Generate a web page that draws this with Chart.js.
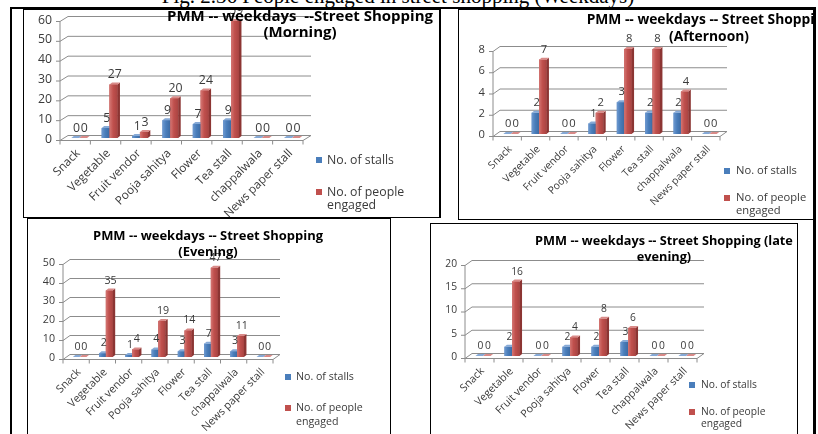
<!DOCTYPE html>
<html>
<head>
<meta charset="utf-8">
<script src="https://cdn.jsdelivr.net/npm/chart.js@4.4.1/dist/chart.umd.min.js"></script>
<style>
  html, body { margin: 0; padding: 0; background: #fff; }
  body { width: 818px; height: 434px; position: relative; overflow: hidden; }
  .caption { position: absolute; left: 0; width: 796px; top: -14px; text-align: center;
             font: 21px "Liberation Serif", "Times New Roman", serif; color: #000; white-space: nowrap; line-height: 21px; }
  .rule { position: absolute; background: #000; }
  .frame { position: absolute; border: 1px solid #000; box-sizing: border-box; overflow: hidden; background: #fff; }
  .frame canvas { position: absolute; left: 0; top: 0; }
</style>
</head>
<body>
<div class="caption">Fig. 2.36 People engaged in street shopping (Weekdays)</div>

<div class="frame" style="left:23px;top:9px;width:418px;height:209px;border-right-width:2px"><canvas id="c1"></canvas></div>
<div class="frame" style="left:458px;top:9px;width:358px;height:211px"><canvas id="c2"></canvas></div>
<div class="frame" style="left:27px;top:218px;width:364px;height:222px"><canvas id="c3"></canvas></div>
<div class="frame" style="left:430px;top:223px;width:368px;height:217px"><canvas id="c4"></canvas></div>

<div class="rule" style="left:10px;top:7px;width:806px;height:2px"></div>
<div class="rule" style="left:10px;top:7px;width:2px;height:427px"></div>
<div class="rule" style="left:813px;top:7px;width:3px;height:427px"></div>

<script>
// ---- data ----
const categories = ['Snack', 'Vegetable', 'Fruit vendor', 'Pooja sahitya', 'Flower', 'Tea stall', 'chappalwala', 'News paper stall'];
const seriesNames = ['No. of stalls', 'No. of people engaged'];

const morningStalls = [0, 5, 1, 9, 7, 9, 0, 0];
const morningPeople = [0, 27, 3, 20, 24, 59, 0, 0];
const morningTicks = [0, 10, 20, 30, 40, 50, 60];
const morningTitle = ['PMM -- weekdays  --Street Shopping', '(Morning)'];

const afternoonStalls = [0, 2, 0, 1, 3, 2, 2, 0];
const afternoonPeople = [0, 7, 0, 2, 8, 8, 4, 0];
const afternoonTicks = [0, 2, 4, 6, 8];
const afternoonTitle = ['PMM -- weekdays -- Street Shopping', '(Afternoon)'];

const eveningStalls = [0, 2, 1, 4, 3, 7, 3, 0];
const eveningPeople = [0, 35, 4, 19, 14, 47, 11, 0];
const eveningTicks = [0, 10, 20, 30, 40, 50];
const eveningTitle = ['PMM -- weekdays -- Street Shopping', '(Evening)'];

const lateStalls = [0, 2, 0, 2, 2, 3, 0, 0];
const latePeople = [0, 16, 0, 4, 8, 6, 0, 0];
const lateTicks = [0, 5, 10, 15, 20];
const lateTitle = ['PMM -- weekdays -- Street Shopping (late', 'evening)'];

// ---- styling ----
const FONT = '"Open Sans", "DejaVu Sans", sans-serif';
const TEXT = '#3a3a3a';
const GRID = '#8c8c8c';
const BLUE = { front: '#4a7ebb', light: '#6e99d0', dark: '#3d6ba3', side: '#36608f', top: '#86a9d6' };
const RED  = { front: '#c0504d', light: '#d47673', dark: '#a94442', side: '#8c3533', top: '#d98a88' };
const BAR_DEPTH = { x: 2.5, y: 2 };

// page-coordinate layout of each panel
const panels = [
  { id: 'c1', title: morningTitle, stalls: morningStalls, people: morningPeople, ticks: morningTicks,
    canvas: { x: 24, y: 10, w: 416, h: 207 }, front: { left: 60, right: 303, y0: 140.5, top: 21.5 },
    depth: { hx: 4, hy: 2.5 }, titleBox: { cx: 300, y: [17, 33], w: 266 },
    legend: { sq: 316, tx: 327, y: [160, 192], lh: 13, w: 67 }, catW: 73 },
  { id: 'c2', title: afternoonTitle, stalls: afternoonStalls, people: afternoonPeople, ticks: afternoonTicks,
    canvas: { x: 459, y: 10, w: 356, h: 209 }, front: { left: 493, right: 720, y0: 136.5, top: 51.5 },
    depth: { hx: 3.5, hy: 2.5 }, titleBox: { cx: 709, y: [20, 37], w: 245 },
    legend: { sq: 724, tx: 736, y: [171, 198], lh: 13, w: 61 }, catW: 64 },
  { id: 'c3', title: eveningTitle, stalls: eveningStalls, people: eveningPeople, ticks: eveningTicks,
    canvas: { x: 28, y: 219, w: 362, h: 215 }, front: { left: 63, right: 273, y0: 359.5, top: 264.5 },
    depth: { hx: 3.5, hy: 2.5 }, titleBox: { cx: 208, y: [236, 252], w: 230 },
    legend: { sq: 285, tx: 296, y: [377, 408], lh: 14, w: 58 }, catW: 67 },
  { id: 'c4', title: lateTitle, stalls: lateStalls, people: latePeople, ticks: lateTicks,
    canvas: { x: 431, y: 224, w: 366, h: 210 }, front: { left: 465, right: 697, y0: 358.5, top: 265.5 },
    depth: { hx: 3.5, hy: 2.5 }, titleBox: { cx: 664, y: [241, 257], w: 258 },
    legend: { sq: 689, tx: 701, y: [385, 412], lh: 12, w: 56 }, catW: 66 }
];

// font size that makes `text` span `width` pixels
function fitSize(ctx, text, width, weight) {
  ctx.font = weight + ' 100px ' + FONT;
  return 100 * width / ctx.measureText(text).width;
}

function poly(ctx, pts, fill) {
  ctx.beginPath();
  ctx.moveTo(pts[0][0], pts[0][1]);
  for (let i = 1; i < pts.length; i++) ctx.lineTo(pts[i][0], pts[i][1]);
  ctx.closePath();
  ctx.fillStyle = fill;
  ctx.fill();
}

// shading on the front face plus the side and top faces of a column
function barFaces(ctx, el, col) {
  const { x, y, base, width } = el.getProps(['x', 'y', 'base', 'width'], true);
  const l = x - width / 2, r = x + width / 2;
  const dx = BAR_DEPTH.x, dy = BAR_DEPTH.y;
  if (base - y > 0.5) {
    const g = ctx.createLinearGradient(l, 0, r, 0);
    g.addColorStop(0, col.light);
    g.addColorStop(0.45, col.front);
    g.addColorStop(1, col.dark);
    ctx.fillStyle = g;
    ctx.fillRect(l, y, width, base - y);
  }
  poly(ctx, [[r, y], [r + dx, y - dy], [r + dx, base - dy], [r, base]], col.side);
  poly(ctx, [[l, y], [l + dx, y - dy], [r + dx, y - dy], [r, y]], col.top);
}

function panelPlugin(p) {
  const ox = p.canvas.x, oy = p.canvas.y;
  const sizes = {};
  return {
    id: 'panel3d',
    beforeDatasetsDraw(chart) {
      const { ctx, chartArea: a, scales: { x, y } } = chart;
      const hx = p.depth.hx, hy = p.depth.hy;
      const fl = a.left - hx, fr = a.right - hx, bl = a.left + hx, br = a.right + hx;
      ctx.save();
      ctx.strokeStyle = GRID;
      ctx.lineWidth = 1;
      p.ticks.forEach(v => {
        const ym = y.getPixelForValue(v);
        ctx.beginPath();
        ctx.moveTo(fl, ym + hy);
        ctx.lineTo(bl, ym - hy);
        ctx.lineTo(br, ym - hy);
        ctx.stroke();
        ctx.beginPath();
        ctx.moveTo(fl - 4, ym + hy);
        ctx.lineTo(fl, ym + hy);
        ctx.stroke();
      });
      const y0 = y.getPixelForValue(p.ticks[0]);
      const yT = y.getPixelForValue(p.ticks[p.ticks.length - 1]);
      ctx.beginPath();
      ctx.moveTo(fl, y0 + hy); ctx.lineTo(fl, yT + hy);
      ctx.stroke();
      ctx.beginPath();
      ctx.moveTo(fl, y0 + hy); ctx.lineTo(fr, y0 + hy); ctx.lineTo(br, y0 - hy);
      ctx.stroke();
      const n = categories.length;
      const cw = (a.right - a.left) / n;
      for (let k = 0; k <= n; k++) {
        const xk = x.getPixelForValue(0) - cw / 2 + k * cw - hx;
        ctx.beginPath();
        ctx.moveTo(xk, y0 + hy); ctx.lineTo(xk, y0 + hy + 4);
        ctx.stroke();
      }
      ctx.restore();
    },
    afterDatasetsDraw(chart) {
      const ctx = chart.ctx;
      const m0 = chart.getDatasetMeta(0), m1 = chart.getDatasetMeta(1);
      ctx.save();
      for (let i = 0; i < categories.length; i++) {
        barFaces(ctx, m0.data[i], BLUE);
        m1.data[i].draw(ctx);
        barFaces(ctx, m1.data[i], RED);
      }
      // value labels
      sizes.small = fitSize(ctx, 'No. of stalls', p.legend.w, 'normal');
      ctx.font = sizes.small.toFixed(2) + 'px ' + FONT;
      ctx.fillStyle = TEXT;
      ctx.textAlign = 'center';
      ctx.textBaseline = 'middle';
      [m0, m1].forEach((m, d) => {
        const vals = chart.data.datasets[d].data;
        m.data.forEach((el, i) => {
          ctx.fillText(String(vals[i]), el.x + BAR_DEPTH.x / 2, el.y - 10);
        });
      });
      ctx.restore();
    },
    afterDraw(chart) {
      const { ctx, chartArea: a, scales: { x, y } } = chart;
      const hx = p.depth.hx, hy = p.depth.hy;
      const fl = a.left - hx;
      ctx.save();
      // value axis labels
      ctx.font = sizes.small.toFixed(2) + 'px ' + FONT;
      ctx.fillStyle = TEXT;
      ctx.textAlign = 'right';
      ctx.textBaseline = 'middle';
      p.ticks.forEach(v => ctx.fillText(String(v), fl - 8, y.getPixelForValue(v) + hy - 1.5));
      // category labels
      const cs = fitSize(ctx, 'Pooja sahitya', p.catW, 'normal');
      ctx.font = cs.toFixed(2) + 'px ' + FONT;
      ctx.fillStyle = TEXT;
      const y0 = y.getPixelForValue(p.ticks[0]) + hy;
      categories.forEach((c, i) => {
        ctx.save();
        ctx.translate(x.getPixelForValue(i) - hx + 3, y0 + 11);
        ctx.rotate(-Math.PI / 4);
        ctx.textAlign = 'right';
        ctx.textBaseline = 'middle';
        ctx.fillText(c, 0, 0);
        ctx.restore();
      });
      // title
      const ts = fitSize(ctx, p.title[0], p.titleBox.w, 'bold');
      ctx.font = 'bold ' + ts.toFixed(2) + 'px ' + FONT;
      ctx.fillStyle = '#000';
      ctx.textAlign = 'center';
      ctx.textBaseline = 'middle';
      p.title.forEach((t, k) => ctx.fillText(t, p.titleBox.cx - ox, p.titleBox.y[k] - oy));
      // legend
      ctx.font = sizes.small.toFixed(2) + 'px ' + FONT;
      ctx.textAlign = 'left';
      const cols = [BLUE.front, RED.front];
      chart.data.datasets.forEach((ds, d) => {
        const yy = p.legend.y[d] - oy;
        ctx.fillStyle = cols[d];
        ctx.fillRect(p.legend.sq - ox, yy - 3, 6, 6);
        // wrap the series name to the legend width
        const words = ds.label.split(' ');
        const lines = [];
        let cur = '';
        words.forEach(w => {
          const t = cur ? cur + ' ' + w : w;
          if (cur && ctx.measureText(t).width > p.legend.w * 1.35) { lines.push(cur); cur = w; }
          else cur = t;
        });
        lines.push(cur);
        ctx.fillStyle = TEXT;
        lines.forEach((ln, k) => ctx.fillText(ln, p.legend.tx - ox, yy + k * p.legend.lh));
      });
      ctx.restore();
    }
  };
}

function buildPanel(p) {
  const cv = document.getElementById(p.id);
  cv.width = p.canvas.w;
  cv.height = p.canvas.h;
  const ox = p.canvas.x, oy = p.canvas.y;
  const pad = {
    left: p.front.left + p.depth.hx - ox,
    right: ox + p.canvas.w - (p.front.right + p.depth.hx),
    top: p.front.top - p.depth.hy - oy,
    bottom: oy + p.canvas.h - (p.front.y0 - p.depth.hy)
  };
  new Chart(cv, {
    type: 'bar',
    data: {
      labels: categories,
      datasets: [
        { label: seriesNames[0], data: p.stalls, backgroundColor: BLUE.front, borderWidth: 0 },
        { label: seriesNames[1], data: p.people, backgroundColor: RED.front, borderWidth: 0 }
      ]
    },
    options: {
      responsive: false,
      animation: false,
      devicePixelRatio: 1,
      layout: { padding: pad },
      datasets: { bar: { categoryPercentage: 0.52, barPercentage: 1 } },
      plugins: { legend: { display: false }, tooltip: { enabled: false }, title: { display: false } },
      scales: {
        x: { display: false },
        y: {
          display: false,
          min: p.ticks[0],
          max: p.ticks[p.ticks.length - 1],
          ticks: { stepSize: p.ticks[1] - p.ticks[0] }
        }
      }
    },
    plugins: [panelPlugin(p)]
  });
}

panels.forEach(buildPanel);
</script>
</body>
</html>
